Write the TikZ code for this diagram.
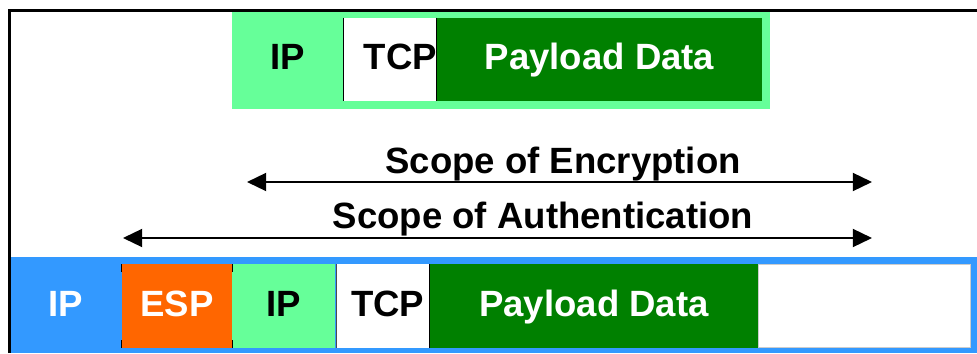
\documentclass[tikz,border=0pt]{standalone}
\usepackage{fontspec}
\setmainfont{Liberation Sans}
\usetikzlibrary{arrows.meta}
\definecolor{ltgreen}{HTML}{66FF99}
\definecolor{dkgreen}{HTML}{008000}
\definecolor{ipblue}{HTML}{3399FF}
\definecolor{esporange}{HTML}{FF6600}

\begin{document}
\begin{tikzpicture}[
  >={Triangle[length=0.48cm, width=0.45cm]},
  field/.style={minimum height=2.08cm, inner sep=0pt, text height=0.58cm, text depth=0.06cm,
    font=\fontsize{26}{31}\selectfont\bfseries},
  scopelbl/.style={anchor=base, inner sep=0pt, font=\fontsize{26}{31}\selectfont\bfseries},
  scopearrow/.style={line width=1.4pt, <->},
  sep/.style={black, line width=0.8pt}
]

% Canvas
\useasboundingbox (0,0) rectangle (24.425,8.825);
\fill[white] (0,0) rectangle (24.425,8.825);

% Frame, top and left edge only
\draw[line width=2.1pt] (0.2375,0) -- (0.2375,8.5625) -- (24.425,8.5625);

% Original packet
\node[fill=ltgreen, minimum width=13.45cm, minimum height=2.425cm, inner sep=0pt] (orig) at (12.525,7.3125) {};
\node[field] (ipA) at (7.2,7.3375) {IP};
\node[field, fill=white, text width=2.325cm, align=right] (tcpA) at (9.7625,7.3375) {TCP};
\node[field, fill=dkgreen, text=white, minimum width=8.125cm] (payA) at (14.9875,7.3375) {Payload Data};
\draw[sep] (tcpA.north west) -- (tcpA.south west);
\draw[sep] (payA.north west) -- (payA.south west);

% Scope arrows
\coordinate (encL) at (6.175,4.275);
\coordinate (encR) at (21.8,4.275);
\coordinate (authL) at (3.075,2.875);
\coordinate (authR) at (21.8,2.875);
\node[scopelbl] (encText) at (14.075,4.5) {Scope of Encryption};
\node[scopelbl] (authText) at (13.575,3.125) {Scope of Authentication};
\draw[scopearrow] (encL) -- (encR);
\draw[scopearrow] (authL) -- (authR);

% ESP tunnel packet
\node[fill=ipblue, minimum width=24.15cm, minimum height=2.4cm, inner sep=0pt] (tunnel) at (12.35,1.2) {};
\node[field, text=white] (ipB) at (1.65,1.175) {IP};
\node[field, fill=esporange, text=white, minimum width=2.75cm] (esp) at (4.425,1.175) {ESP};
\node[field, fill=ltgreen, minimum width=2.575cm] (ipC) at (7.0875,1.175) {IP};
\node[field, fill=white, text width=2.3cm, align=right] (tcpB) at (9.5625,1.175) {TCP\kern3pt};
\node[field, fill=dkgreen, text=white, minimum width=8.2cm] (payB) at (14.85,1.175) {Payload Data};
\node[field, fill=white, draw=gray!40, line width=0.6pt, minimum width=5.3cm] (trailer) at (21.6,1.175) {};
\foreach \c/\d in {north west/-, south west/+, north east/-, south east/+}
  \draw[sep] (esp.\c) -- ++(0,\d0.2);
\draw[sep, black!70] (tcpB.north west) -- (tcpB.south west);
\draw[sep] (payB.north west) -- (payB.south west);

\end{tikzpicture}
\end{document}
